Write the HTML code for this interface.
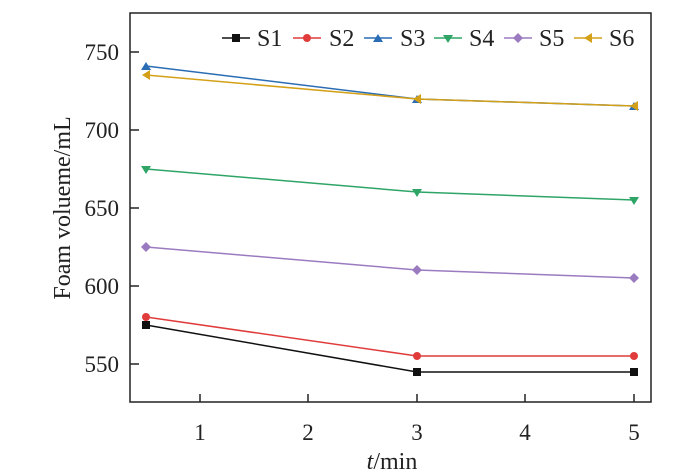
<!DOCTYPE html>
<html><head><style>body{margin:0;background:#fff}svg{display:block}</style></head><body>
<svg width="692" height="474" xmlns="http://www.w3.org/2000/svg" font-family="Liberation Serif, serif" font-size="23">
<rect x="130" y="13" width="521" height="389" fill="none" stroke="#222" stroke-width="1.5"/>
<g stroke="#222" stroke-width="1.5">
<line x1="200" y1="402" x2="200" y2="394"/><line x1="308" y1="402" x2="308" y2="394"/><line x1="417" y1="402" x2="417" y2="394"/><line x1="525" y1="402" x2="525" y2="394"/><line x1="634" y1="402" x2="634" y2="394"/>
<line x1="130" y1="52" x2="139" y2="52"/><line x1="130" y1="130" x2="139" y2="130"/><line x1="130" y1="208" x2="139" y2="208"/><line x1="130" y1="286" x2="139" y2="286"/><line x1="130" y1="364" x2="139" y2="364"/>
</g>
<g text-anchor="middle" fill="#222">
<text x="200" y="440">1</text><text x="308" y="440">2</text><text x="417" y="440">3</text><text x="525" y="440">4</text><text x="634" y="440">5</text>
<text x="392" y="469" font-size="24"><tspan font-style="italic">t</tspan>/min</text>
</g>
<g text-anchor="end" fill="#222">
<text x="119" y="60">750</text><text x="119" y="138">700</text><text x="119" y="216">650</text><text x="119" y="294">600</text><text x="119" y="372">550</text>
</g>
<text transform="translate(70,208) rotate(-90)" text-anchor="middle" fill="#222" font-size="24">Foam volueme/mL</text>
<polyline points="146,325 417,372 634,372" fill="none" stroke="#111" stroke-width="1.5"/>
<g fill="#111"><rect x="142" y="321" width="8" height="8"/><rect x="413" y="368" width="8" height="8"/><rect x="630" y="368" width="8" height="8"/></g>
<polyline points="146,317 417,356 634,356" fill="none" stroke="#e03c3c" stroke-width="1.5"/>
<g fill="#e03c3c"><circle cx="146" cy="317" r="4"/><circle cx="417" cy="356" r="4"/><circle cx="634" cy="356" r="4"/></g>
<polyline points="146,247 417,270 634,278" fill="none" stroke="#9b7bc0" stroke-width="1.5"/>
<g fill="#9b7bc0"><path d="M146 242l5 5-5 5-5-5z"/><path d="M417 265l5 5-5 5-5-5z"/><path d="M634 273l5 5-5 5-5-5z"/></g>
<polyline points="146,169 417,192 634,200" fill="none" stroke="#2ea566" stroke-width="1.5"/>
<g fill="#2ea566"><path d="M141 166h10l-5 8z"/><path d="M412 189h10l-5 8z"/><path d="M629 197h10l-5 8z"/></g>
<polyline points="146,66 417,99 634,106" fill="none" stroke="#2a6db5" stroke-width="1.5"/>
<g fill="#2a6db5"><path d="M141 70h10l-5-8z"/><path d="M412 103h10l-5-8z"/><path d="M629 110h10l-5-8z"/></g>
<polyline points="146,75 417,99 634,106" fill="none" stroke="#d4a017" stroke-width="1.5"/>
<g fill="#d4a017"><path d="M142 75l8-5v10z"/><path d="M413 99l8-5v10z"/><path d="M630 106l8-5v10z"/></g>
<g stroke-width="1.5">
<line x1="222" y1="38" x2="250" y2="38" stroke="#111"/><rect x="232" y="34" width="8" height="8" fill="#111"/>
<line x1="293" y1="38" x2="321" y2="38" stroke="#e03c3c"/><circle cx="307" cy="38" r="4" fill="#e03c3c"/>
<line x1="364" y1="38" x2="392" y2="38" stroke="#2a6db5"/><path d="M373 42h10l-5-8z" fill="#2a6db5"/>
<line x1="434" y1="38" x2="462" y2="38" stroke="#2ea566"/><path d="M443 35h10l-5 8z" fill="#2ea566"/>
<line x1="504" y1="38" x2="532" y2="38" stroke="#9b7bc0"/><path d="M518 33l5 5-5 5-5-5z" fill="#9b7bc0"/>
<line x1="574" y1="38" x2="602" y2="38" stroke="#d4a017"/><path d="M584 38l8-5v10z" fill="#d4a017"/>
</g>
<g fill="#222" font-size="24">
<text x="257" y="46">S1</text><text x="329" y="46">S2</text><text x="400" y="46">S3</text><text x="469" y="46">S4</text><text x="539" y="46">S5</text><text x="609" y="46">S6</text>
</g>
</svg>
</body></html>
